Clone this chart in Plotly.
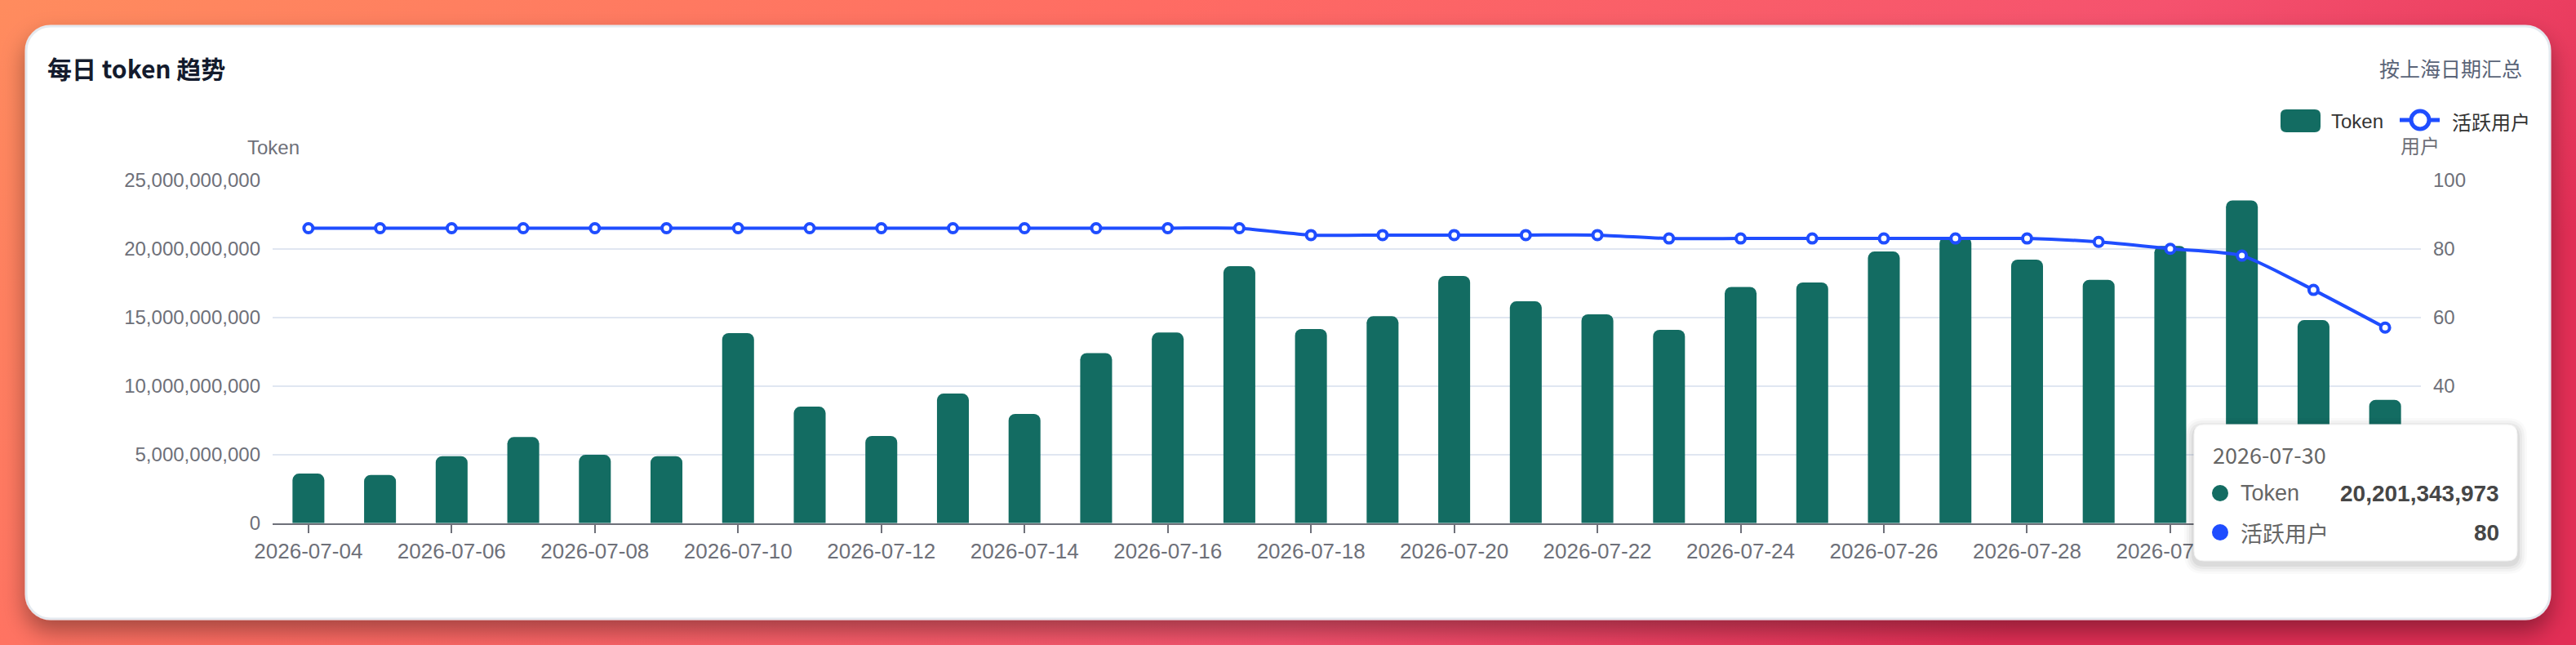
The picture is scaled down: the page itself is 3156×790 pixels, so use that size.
import base64
import plotly.graph_objects as go

W, H = 3156, 790

dates = [
    "2026-07-04", "2026-07-05", "2026-07-06", "2026-07-07", "2026-07-08",
    "2026-07-09", "2026-07-10", "2026-07-11", "2026-07-12", "2026-07-13",
    "2026-07-14", "2026-07-15", "2026-07-16", "2026-07-17", "2026-07-18",
    "2026-07-19", "2026-07-20", "2026-07-21", "2026-07-22", "2026-07-23",
    "2026-07-24", "2026-07-25", "2026-07-26", "2026-07-27", "2026-07-28",
    "2026-07-29", "2026-07-30", "2026-07-31", "2026-08-01", "2026-08-02",
]
tokens = [
    3_610_000_000, 3_510_000_000, 4_880_000_000, 6_270_000_000, 4_980_000_000,
    4_880_000_000, 13_850_000_000, 8_490_000_000, 6_350_000_000, 9_440_000_000,
    7_960_000_000, 12_400_000_000, 13_890_000_000, 18_730_000_000, 14_150_000_000,
    15_080_000_000, 18_020_000_000, 16_170_000_000, 15_220_000_000, 14_090_000_000,
    17_220_000_000, 17_540_000_000, 19_800_000_000, 20_870_000_000, 19_210_000_000,
    17_740_000_000, 20_201_343_973, 23_530_000_000, 14_800_000_000, 8_990_000_000,
]
users = [
    86, 86, 86, 86, 86, 86, 86, 86, 86, 86,
    86, 86, 86, 86, 84, 84, 84, 84, 84, 83,
    83, 83, 83, 83, 83, 82, 80, 78, 68, 57,
]
hover_date = "2026-07-30"

GREEN = "#136C62"
BLUE = "#1F4DFF"
AXIS = "#6E7079"
GRID = "#E0E6F1"
FONT = "Liberation Sans, Noto Sans CJK SC, sans-serif"
CJK = "Noto Sans CJK SC, Liberation Sans, sans-serif"


def fx(x):
    return x / W


def fy(y):
    return 1 - y / H


def rounded_rect(x0, y0, x1, y1, r):
    p = [
        ("M", x0 + r, y0), ("L", x1 - r, y0), ("Q", x1, y0, x1, y0 + r),
        ("L", x1, y1 - r), ("Q", x1, y1, x1 - r, y1), ("L", x0 + r, y1),
        ("Q", x0, y1, x0, y1 - r), ("L", x0, y0 + r), ("Q", x0, y0, x0 + r, y0),
    ]
    out = ""
    for seg in p:
        cmd, nums = seg[0], seg[1:]
        pairs = [f"{fx(nums[i]):.6f},{fy(nums[i + 1]):.6f}" for i in range(0, len(nums), 2)]
        out += cmd + " ".join(pairs) + " "
    return out + "Z"


# page background: gradient + white card with shadow
bg_svg = f"""<svg xmlns="http://www.w3.org/2000/svg" width="{W}" height="{H}" viewBox="0 0 {W} {H}">
<defs>
<linearGradient id="g" x1="0" y1="0" x2="1" y2="0.35">
<stop offset="0" stop-color="#FF8C5E"/>
<stop offset="0.4" stop-color="#FF6C63"/>
<stop offset="0.75" stop-color="#F5526E"/>
<stop offset="1" stop-color="#E22E55"/>
</linearGradient>
<filter id="s" x="-5%" y="-20%" width="110%" height="150%">
<feDropShadow dx="0" dy="14" stdDeviation="14" flood-color="#000" flood-opacity="0.35"/>
</filter>
</defs>
<rect width="{W}" height="{H}" fill="url(#g)"/>
<rect x="32" y="32" width="3092" height="726" rx="30" fill="#ffffff" stroke="#E4E9EF" stroke-width="3" filter="url(#s)"/>
</svg>"""
bg_uri = "data:image/svg+xml;base64," + base64.b64encode(bg_svg.encode("utf-8")).decode()

fig = go.Figure()
fig.add_trace(go.Bar(
    x=dates, y=tokens, name="Token",
    marker=dict(color=GREEN, cornerradius=8, line=dict(width=0)),
    yaxis="y",
))
fig.add_trace(go.Scatter(
    x=dates, y=users, name="活跃用户", yaxis="y2",
    mode="lines+markers",
    line=dict(color=BLUE, width=4, shape="spline", smoothing=0.6),
    marker=dict(symbol="circle", size=11, color="white", line=dict(color=BLUE, width=4)),
))

shapes = []
annotations = []

# titles
annotations.append(dict(x=fx(56), y=fy(83), xref="paper", yref="paper", xanchor="left", yanchor="middle",
                        text="<b>每日 token 趋势</b>", showarrow=False,
                        font=dict(family=CJK, size=30, color="#141B2D")))
annotations.append(dict(x=fx(3092), y=fy(83), xref="paper", yref="paper", xanchor="right", yanchor="middle",
                        text="按上海日期汇总", showarrow=False,
                        font=dict(family=CJK, size=25, color="#5A6478")))
# axis names
annotations.append(dict(x=fx(335), y=fy(180), xref="paper", yref="paper", xanchor="center", yanchor="middle",
                        text="Token", showarrow=False, font=dict(family=FONT, size=24, color=AXIS)))
annotations.append(dict(x=fx(2965), y=fy(178), xref="paper", yref="paper", xanchor="center", yanchor="middle",
                        text="用户", showarrow=False, font=dict(family=CJK, size=24, color=AXIS)))

# legend
shapes.append(dict(type="path", path=rounded_rect(2794, 134, 2843, 162, 7), xref="paper", yref="paper",
                   fillcolor=GREEN, line=dict(width=0), layer="above"))
annotations.append(dict(x=fx(2854), y=fy(148), xref="paper", yref="paper", xanchor="left", yanchor="middle",
                        text="Token", showarrow=False, font=dict(family=FONT, size=24, color="#333333")))
shapes.append(dict(type="line", x0=fx(2940), x1=fx(2989), y0=fy(147), y1=fy(147), xref="paper", yref="paper",
                   line=dict(color=BLUE, width=5), layer="above"))
shapes.append(dict(type="circle", x0=fx(2954), x1=fx(2976), y0=fy(136), y1=fy(158), xref="paper", yref="paper",
                   fillcolor="white", line=dict(color=BLUE, width=5), layer="above"))
annotations.append(dict(x=fx(3002), y=fy(148), xref="paper", yref="paper", xanchor="left", yanchor="middle",
                        text="活跃用户", showarrow=False, font=dict(family=CJK, size=24, color="#333333")))

# tooltip for the hovered day
i = dates.index(hover_date)
for k, a in enumerate([0.05, 0.04, 0.03, 0.02]):
    g = 3 * (k + 1)
    shapes.append(dict(type="path", path=rounded_rect(2688 - g, 520 - g + 4, 3084 + g, 687 + g + 4, 12 + g),
                       xref="paper", yref="paper", fillcolor=f"rgba(0,0,0,{a})", line=dict(width=0), layer="above"))
shapes.append(dict(type="path", path=rounded_rect(2688, 520, 3084, 687, 12), xref="paper", yref="paper",
                   fillcolor="white", line=dict(color="#F2F2F2", width=1), layer="above"))
shapes.append(dict(type="circle", x0=fx(2710), x1=fx(2730), y0=fy(594), y1=fy(614), xref="paper", yref="paper",
                   fillcolor=GREEN, line=dict(width=0), layer="above"))
shapes.append(dict(type="circle", x0=fx(2710), x1=fx(2730), y0=fy(642), y1=fy(662), xref="paper", yref="paper",
                   fillcolor=BLUE, line=dict(width=0), layer="above"))
tip_font = dict(family=CJK, size=27, color="#666666")
val_font = dict(family=FONT, size=28, color="#464646")
annotations += [
    dict(x=fx(2709), y=fy(556), text=dates[i], xanchor="left", font=tip_font),
    dict(x=fx(2743), y=fy(604), text="Token", xanchor="left", font=dict(tip_font, family=FONT)),
    dict(x=fx(3064), y=fy(604), text=f"<b>{tokens[i]:,}</b>", xanchor="right", font=val_font),
    dict(x=fx(2743), y=fy(652), text="活跃用户", xanchor="left", font=tip_font),
    dict(x=fx(3064), y=fy(652), text=f"<b>{users[i]}</b>", xanchor="right", font=val_font),
]
for a in annotations[-5:]:
    a.update(xref="paper", yref="paper", yanchor="middle", showarrow=False)

fig.update_layout(
    width=W, height=H,
    template="none",
    margin=dict(l=0, r=0, t=0, b=0),
    paper_bgcolor="white",
    plot_bgcolor="rgba(0,0,0,0)",
    font=dict(family=FONT, size=24, color=AXIS),
    showlegend=False,
    bargap=0.555,
    images=[dict(source=bg_uri, xref="paper", yref="paper", x=0, y=1, sizex=1, sizey=1,
                 xanchor="left", yanchor="top", sizing="stretch", layer="below")],
    shapes=shapes,
    annotations=annotations,
    xaxis=dict(
        type="category", domain=[fx(334), fx(2966)], anchor="y",
        range=[-0.5, len(dates) - 0.5],
        showgrid=False, zeroline=False, showline=True, linecolor=AXIS, linewidth=2,
        ticks="outside", ticklen=10, tickwidth=2, tickcolor=AXIS,
        tickmode="linear", tick0=0, dtick=2,
        tickfont=dict(size=26, color=AXIS), automargin=False,
    ),
    yaxis=dict(
        domain=[fy(640.7), fy(220.7)], range=[0, 25e9], dtick=5e9, tickformat=",.0f",
        showgrid=True, gridcolor=GRID, gridwidth=2, zeroline=False, showline=False, ticks="",
        tickfont=dict(size=24, color=AXIS), ticklabelstandoff=14, automargin=False,
    ),
    yaxis2=dict(
        overlaying="y", side="right", anchor="x", range=[0, 100], dtick=20,
        showgrid=False, zeroline=False, showline=False, ticks="",
        tickfont=dict(size=24, color=AXIS), ticklabelstandoff=14, automargin=False,
    ),
)

fig.write_html("out.html", config={"displayModeBar": False},
               post_script="document.body.style.margin='0';")
